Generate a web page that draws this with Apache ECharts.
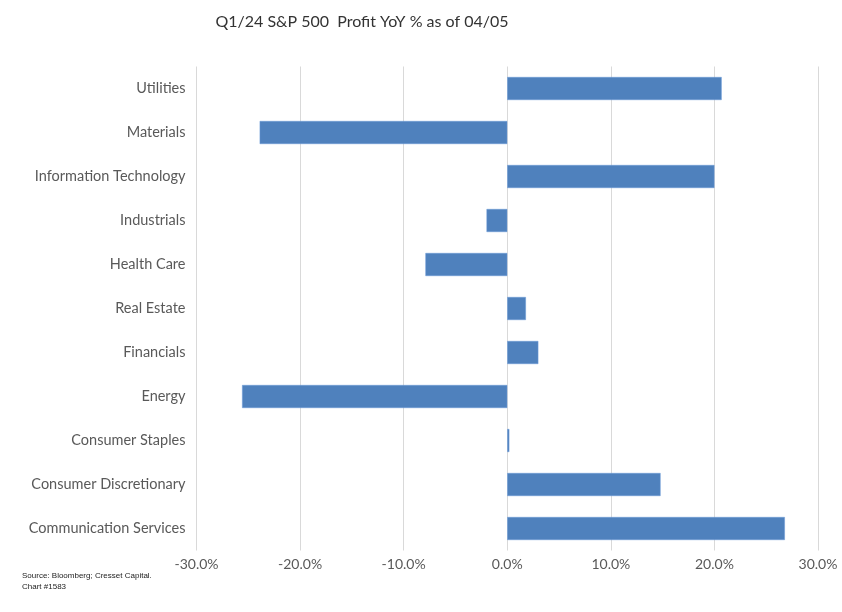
<!DOCTYPE html>
<html><head><meta charset="utf-8">
<script src="https://cdn.jsdelivr.net/npm/echarts@6/dist/echarts.min.js"></script>
<style>html,body{margin:0;padding:0;background:#fff}#c{width:842px;height:612px}</style>
</head><body><div id="c"></div>
<script>
const categories = ["Communication Services","Consumer Discretionary","Consumer Staples","Energy","Financials","Real Estate","Health Care","Industrials","Information Technology","Materials","Utilities"];
const values = [26.8, 14.8, 0.2, -25.6, 3.0, 1.8, -7.9, -2.0, 20.0, -23.9, 20.7];
const titleText = "Q1/24 S&P 500  Profit YoY % as of 04/05";
const sourceLines = ["Source: Bloomberg; Cresset Capital.", "Chart #1583"];

const chart = echarts.init(document.getElementById('c'));
chart.setOption({
  animation: false,
  backgroundColor: '#fff',
  title: {
    text: titleText, left: 357, top: 9, textAlign: 'center',
    textStyle: {fontFamily: 'Lato', fontSize: 16, fontWeight: 'normal', color: '#333'}
  },
  graphic: [{
    type: 'text', left: 22, top: 570,
    style: {text: sourceLines.join('\n'), fontFamily: 'Liberation Sans', fontSize: 8, lineHeight: 11, fill: '#222'}
  }],
  grid: {left: 196.5, right: 24, top: 66.5, height: 484, containLabel: false},
  xAxis: {
    type: 'value', min: -30, max: 30, interval: 10,
    axisLine: {show: false}, axisTick: {show: false},
    splitLine: {lineStyle: {color: '#d9d9d9', width: 1}},
    axisLabel: {formatter: v => v.toFixed(1) + '%', fontFamily: 'Lato', fontSize: 14, color: '#595959', margin: 7}
  },
  yAxis: {
    type: 'category', data: categories,
    axisLine: {show: false}, axisTick: {show: false},
    axisLabel: {fontFamily: 'Lato', fontSize: 14.5, color: '#595959', margin: 11}
  },
  series: [{
    type: 'bar', data: values, barWidth: 23,
    itemStyle: {color: '#4f81bd', borderColor: '#6b9bd8', borderWidth: 0.5}
  }]
});
</script></body></html>
